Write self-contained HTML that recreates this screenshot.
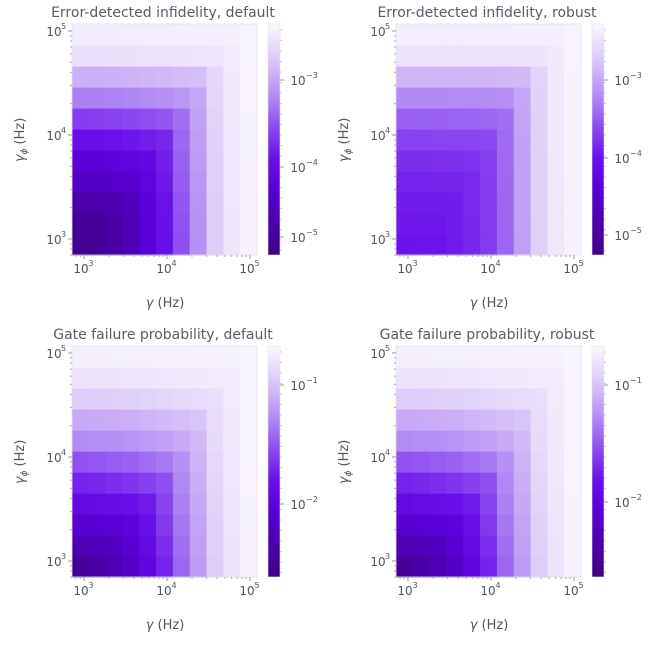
<!DOCTYPE html>
<html><head><meta charset="utf-8"><style>
body{margin:0;background:#fff;}
svg text{font-family:"DejaVu Sans","Liberation Sans",sans-serif;fill:#555;}
</style></head><body>
<svg id="s" width="648" height="642" xmlns="http://www.w3.org/2000/svg">
<defs>
<linearGradient id="cb" x1="0" y1="1" x2="0" y2="0">
<stop offset="0" stop-color="#3f0085"/><stop offset="0.15" stop-color="#4d00b0"/>
<stop offset="0.3" stop-color="#5a00d8"/><stop offset="0.42" stop-color="#6a10ea"/>
<stop offset="0.55" stop-color="#8c48f0"/><stop offset="0.68" stop-color="#b088f4"/>
<stop offset="0.8" stop-color="#d0b6f7"/><stop offset="0.9" stop-color="#e6dafa"/>
<stop offset="1" stop-color="#fbf8fe"/></linearGradient>
</defs>
</svg>
<script>
const stops=[[0,[0x3f,0,0x85]],[0.15,[0x4d,0,0xb0]],[0.3,[0x5a,0,0xd8]],[0.42,[0x6a,0x10,0xea]],[0.55,[0x8c,0x48,0xf0]],[0.68,[0xb0,0x88,0xf4]],[0.8,[0xd0,0xb6,0xf7]],[0.9,[0xe6,0xda,0xfa]],[1,[0xfb,0xf8,0xfe]]];
function cm(t){t=Math.max(0,Math.min(1,t));for(let i=1;i<stops.length;i++){if(t<=stops[i][0]){const a=stops[i-1],b=stops[i];const f=(t-a[0])/(b[0]-a[0]);const c=a[1].map((v,k)=>Math.round(v+(b[1][k]-v)*f));return `rgb(${c})`;}}return 'rgb(251,248,254)';}
const panels=[
{ox:0,oy:0,title:"Error-detected infidelity, default",rows:[0.04,0.06,0.12,0.22,0.3,0.4,0.52,0.66,0.78,0.92,0.96],cols:[0.03,0.05,0.1,0.17,0.28,0.4,0.56,0.7,0.86,0.94,0.98],s:0.3,ticks:[[80,"3"],[167,"4"],[237,"5"]]},
{ox:324,oy:0,title:"Error-detected infidelity, robust",rows:[0.38,0.39,0.4,0.42,0.45,0.5,0.57,0.66,0.78,0.92,0.96],cols:[0.36,0.37,0.38,0.4,0.43,0.48,0.58,0.72,0.86,0.94,0.98],s:0.2,ticks:[[80,"3"],[158,"4"],[235,"5"]]},
{ox:0,oy:322,title:"Gate failure probability, default",rows:[0.05,0.15,0.25,0.35,0.45,0.56,0.68,0.76,0.86,0.93,0.97],cols:[0.05,0.1,0.15,0.22,0.33,0.45,0.6,0.72,0.86,0.93,0.98],s:0.45,ticks:[[63,"1"],[182,"2"]]},
{ox:324,oy:322,title:"Gate failure probability, robust",rows:[0.05,0.15,0.25,0.35,0.45,0.56,0.68,0.76,0.86,0.93,0.97],cols:[0.05,0.1,0.15,0.22,0.33,0.45,0.6,0.72,0.86,0.93,0.98],s:0.45,ticks:[[63,"1"],[180,"2"]]}];
let h='';
const X0=72,X1=257,Y0=24,Y1=255,cw=(X1-X0)/11,rh=(Y1-Y0)/11;
for(const P of panels){
 const ox=P.ox,oy=P.oy;
 h+=`<g transform="translate(${ox},${oy})">`;
 for(let r=0;r<11;r++)for(let c=0;c<11;c++){
  const a=P.rows[r],b=P.cols[c];const m=Math.max(a,b),n=Math.min(a,b);const v=m+n*P.s*(1-m);
  h+=`<rect x="${(X0+c*cw).toFixed(2)}" y="${(Y1-(r+1)*rh).toFixed(2)}" width="${(cw+0.6).toFixed(2)}" height="${(rh+0.6).toFixed(2)}" fill="${cm(v)}"/>`;
 }
 h+=`<rect x="${X0}" y="${Y0}" width="${X1-X0}" height="${Y1-Y0}" fill="none" stroke="#e4e0ec" stroke-width="0.8"/>`;
 const xd=[[84,"3"],[167,"4"],[250,"5"]];
 for(const [x,e] of xd){h+=`<line x1="${x}" y1="${Y1}" x2="${x}" y2="${Y1+4}" stroke="#999"/><text x="${x-3}" y="${Y1+18}" font-size="12" text-anchor="middle">10</text><text x="${x+4.5}" y="${Y1+11}" font-size="8">${e}</text>`;}
 for(let base of [84,167]){for(let m=2;m<10;m++){const x=base+83*Math.log10(m);h+=`<line x1="${x}" y1="${Y1}" x2="${x}" y2="${Y1+2}" stroke="#aaa"/>`;}}
 for(let m=8;m<10;m++){const x=84-83+83*Math.log10(m);h+=`<line x1="${x}" y1="${Y1}" x2="${x}" y2="${Y1+2}" stroke="#aaa"/>`;}
 const yd=[[239,"3"],[135,"4"],[31,"5"]];
 for(const [y,e] of yd){h+=`<line x1="${X0-4}" y1="${y}" x2="${X0}" y2="${y}" stroke="#999"/><text x="${X0-18}" y="${y+5}" font-size="12" text-anchor="middle">10</text><text x="${X0-11}" y="${y-2}" font-size="8">${e}</text>`;}
 for(let base of [239,135]){for(let m=2;m<10;m++){const y=base-104*Math.log10(m);h+=`<line x1="${X0-2}" y1="${y}" x2="${X0}" y2="${y}" stroke="#aaa"/>`;}}
 for(let m=7;m<10;m++){const y=239+104-104*Math.log10(m);h+=`<line x1="${X0-2}" y1="${y}" x2="${X0}" y2="${y}" stroke="#aaa"/>`;}
 h+=`<text x="163" y="17" font-size="14" text-anchor="middle" style="fill:#5f5868">${P.title}</text>`;
 h+=`<text x="165" y="307" font-size="13" text-anchor="middle"><tspan font-style="italic">γ</tspan> (Hz)</text>`;
 h+=`<text transform="translate(24,140) rotate(-90)" font-size="13" text-anchor="middle"><tspan font-style="italic">γ</tspan><tspan font-size="9" dy="3" font-style="italic">ϕ</tspan><tspan dy="-3"> (Hz)</tspan></text>`;
 h+=`<rect x="268" y="24" width="12" height="231" fill="url(#cb)"/><rect x="268" y="24" width="12" height="231" fill="none" stroke="#e4e0ec" stroke-width="0.6"/>`;
 for(const [y,e] of P.ticks){h+=`<line x1="280" y1="${y}" x2="284" y2="${y}" stroke="#999"/><text x="298" y="${y+5}" font-size="12" text-anchor="middle">10</text><text x="306" y="${y-2}" font-size="8">−${e}</text>`;}
 for(let i=0;i<22;i++){const y=30+i*10.5;h+=`<line x1="280" y1="${y}" x2="282" y2="${y}" stroke="#ccc"/>`;}
 h+='</g>';
}
document.getElementById('s').insertAdjacentHTML('beforeend',h);
</script>
</body></html>
